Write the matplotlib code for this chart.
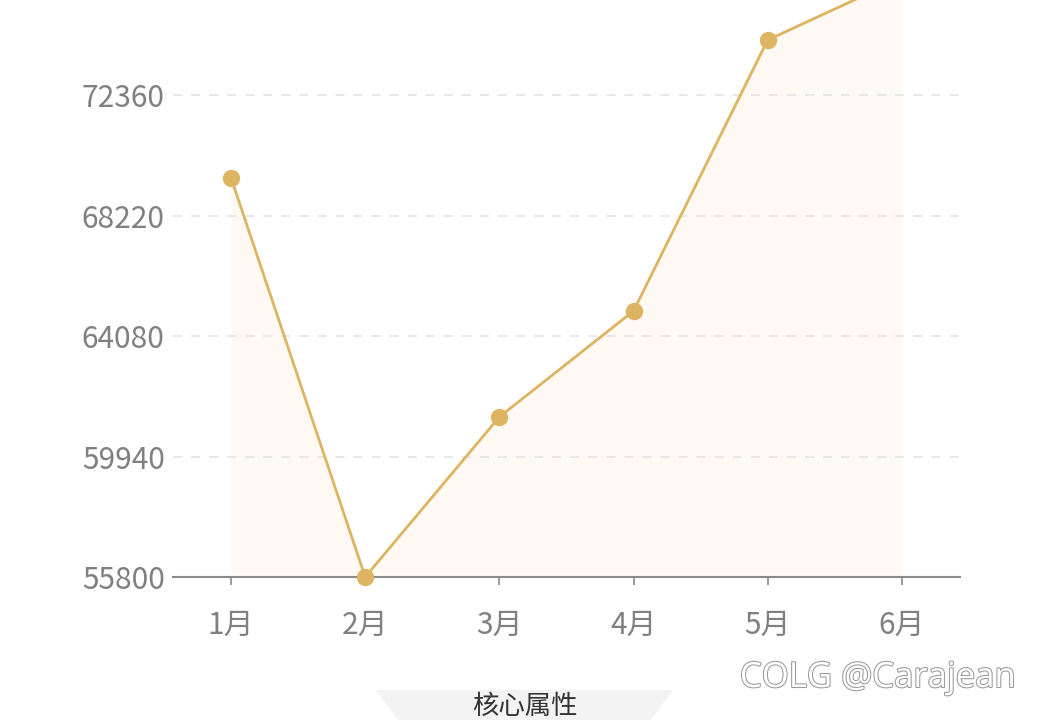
import numpy as np
import matplotlib
matplotlib.use('Agg')
import matplotlib.pyplot as plt
import matplotlib.patheffects as pe
from matplotlib.patches import Polygon

plt.rcParams['font.family'] = ['Noto Sans CJK SC', 'DejaVu Sans']

months = ['1月', '2月', '3月', '4月', '5月', '6月']
values = [69510, 55800, 61300, 64940, 74250, 76380]
y_ticks = [55800, 59940, 64080, 68220, 72360]

line_color = '#DDB462'
fill_color = '#FEFAF3'
text_color = '#808080'

fig = plt.figure(figsize=(10.49, 7.2), dpi=100)
ax = fig.add_axes([0.1649, 0.1986, 0.7502, 0.8014])

x = np.arange(len(months))
ax.fill_between(x, values, y_ticks[0], color=fill_color, linewidth=0, zorder=1)
ax.plot(x, values, color=line_color, linewidth=2.0, zorder=3)
ax.plot(x, values, linestyle='none', marker='o', color=line_color,
        markersize=12.5, markeredgewidth=0, zorder=4, clip_on=False)

ax.set_xlim(-0.433, 5.433)
ax.set_ylim(y_ticks[0], 75624)
ax.set_yticks(y_ticks)
ax.set_yticklabels([str(v) for v in y_ticks])
ax.set_xticks(x)
ax.set_xticklabels(months)

# dashed grid drawn over the light fill
for v in y_ticks[1:]:
    ax.axhline(v, color='#E6E6E6', linewidth=1.3, linestyle=(0, (5, 5)), zorder=2)

for side in ['top', 'right', 'left']:
    ax.spines[side].set_visible(False)
ax.spines['bottom'].set_color('#8A8A8A')
ax.spines['bottom'].set_linewidth(1.5)
ax.spines['bottom'].set_zorder(2)
ax.tick_params(axis='y', length=0, pad=6, labelsize=21.5, labelcolor=text_color)
ax.tick_params(axis='x', length=6, width=1.2, color='#8A8A8A', pad=18,
               labelsize=21.5, labelcolor=text_color)

# bottom section header
trap = Polygon([[376 / 1049, 30 / 720], [673 / 1049, 30 / 720],
                [640 / 1049, -0.02], [409 / 1049, -0.02]],
               closed=True, transform=fig.transFigure, color='#F3F3F3',
               linewidth=0, zorder=0)
fig.patches.append(trap)
fig.text(525 / 1049, 14 / 720, '核心属性', ha='center', va='center',
         fontsize=19, color='#333333')

# watermark
wm = fig.text(878 / 1049, 42 / 720, 'COLG @Carajean', ha='center', va='center',
              fontsize=25, color='white', family=['Open Sans', 'DejaVu Sans'])
wm.set_path_effects([pe.withStroke(linewidth=1.5, foreground='#9A9A9A')])

fig.savefig('out.png', dpi=100)
